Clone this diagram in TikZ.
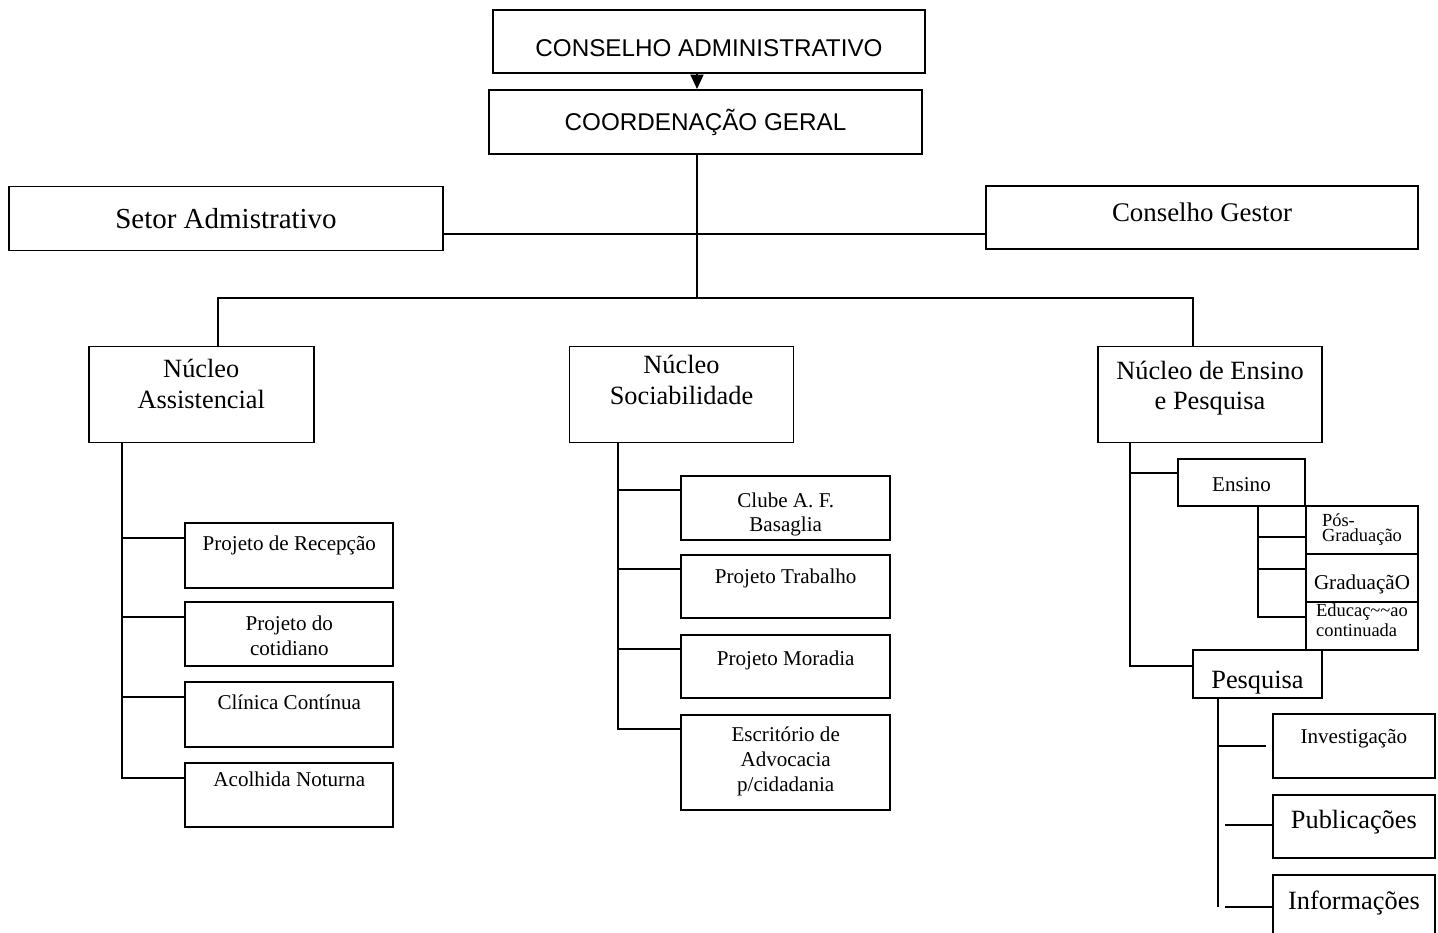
\documentclass[tikz,border=0pt]{standalone}
\usepackage{fontspec}
\setmainfont{Liberation Serif}
\newfontfamily\arialfont{Liberation Sans}
\usetikzlibrary{arrows.meta}

\tikzset{
  box/.style n args={3}{draw, line width=1.1pt, inner xsep=1pt, inner ysep=0pt,
    minimum width=#1*0.02cm, minimum height=#2*0.02cm,
    text height=#3*0.02cm, text depth=(#2-#3)*0.02cm},
  line/.style={line width=1.1pt},
  fsans/.style={font=\arialfont\fontsize{13.8}{16}\selectfont},
  fbig/.style={font=\fontsize{15}{18}\selectfont, align=center},
  fmid/.style={font=\fontsize{12}{13.8}\selectfont, align=center},
  fsmall/.style={font=\fontsize{10.5}{8.9}\selectfont, align=left},
}

\begin{document}
\begin{tikzpicture}[x=0.02cm, y=-0.02cm]
\useasboundingbox (0,0) rectangle (1438,933);

\node[box={432}{63}{46}, fsans] (conad) at (709,41.5) {CONSELHO ADMINISTRATIVO};
\node[box={433}{64}{40}, fsans] (coord) at (705.5,122) {COORDENAÇÃO GERAL};
\node[box={434}{64}{41.5}, font=\fontsize{16.5}{19}\selectfont] (setor) at (226,218.5) {Setor Admistrativo};
\node[box={432}{63}{35}, font=\fontsize{15.3}{18}\selectfont] (gestor) at (1202,217.5) {Conselho Gestor};

\node[box={224.5}{96}{62.3}, fbig] (nassist) at (201.3,394.5) {Núcleo\\Assistencial};
\node[box={224}{96}{58.3}, fbig] (nsocial) at (681.5,394.5) {Núcleo\\Sociabilidade};
\node[box={223.4}{96}{63.3}, fbig, font=\fontsize{15}{17}\selectfont] (nensino) at (1210,394.5) {Núcleo de Ensino\\e Pesquisa};

\node[box={208}{64.4}{27.4}, fmid] (recep) at (289.3,555.5) {Projeto de Recepção};
\node[box={208}{63.7}{52.7}, fmid] (cotid) at (289.3,634.2) {Projeto do\\cotidiano};
\node[box={208}{64.4}{26.7}, fmid] (clinica) at (289.3,714.5) {Clínica Contínua};
\node[box={208}{64}{23.3}, fmid] (acolhida) at (289.3,794.7) {Acolhida Noturna};

\node[box={208.7}{64.3}{56}, fmid] (clube) at (785.7,507.9) {Clube A. F.\\Basaglia};
\node[box={208.7}{63.3}{28.3}, fmid] (trabalho) at (785.7,586.7) {Projeto Trabalho};
\node[box={208.7}{63.3}{30}, fmid] (moradia) at (785.7,666.7) {Projeto Moradia};
\node[box={208.7}{95}{76.7}, fmid, font=\fontsize{12}{14.2}\selectfont] (escrit) at (785.7,762.5) {Escritório de\\Advocacia\\p/cidadania};

\node[box={127.6}{46.7}{32.7}, fmid] (ensino) at (1241.5,482.4) {Ensino};
\node[box={112}{48}{35.7}, fsmall] (posgrad) at (1362,530) {Pós-\\Graduação};
\node[box={112}{48.3}{35}, fmid] (grad) at (1362,578.2) {GraduaçãO};
\node[box={112}{47.7}{34.4}, fsmall, font=\fontsize{10.5}{11.3}\selectfont] (educ) at (1362,626.2) {Educaç\textasciitilde\textasciitilde ao\\continuada};
\node[box={128.4}{48}{38.3}, fbig] (pesq) at (1257.5,674) {Pesquisa};

\node[box={162.3}{64.3}{29.3}, fmid] (invest) at (1353.9,746.2) {Investigação};
\node[box={162.3}{63.3}{33.3}, fbig] (public) at (1353.9,826.7) {Publicações};
\node[box={162.3}{64}{34}, fbig] (inform) at (1353.9,907) {Informações};

\coordinate (split) at (697,298);
\coordinate (mid) at (697,234);
\coordinate (xa) at (218,298);
\coordinate (xb) at (1193.3,298);
\coordinate (ca) at (121.7,0);
\coordinate (cs) at (617.7,0);
\coordinate (ce) at (1130,0);
\coordinate (cg) at (1258.3,0);
\coordinate (cp) at (1218.3,0);
\coordinate (cq) at (1225,0);

\draw[line, -{Triangle[width=0.26cm,length=0.29cm]}] (conad.south -| split) -- (coord.north -| split);
\draw[line] (coord.south -| split) -- (split);
\draw[line] (setor.east |- mid) -- (gestor.west |- mid);
\draw[line] (nassist.north -| xa) -- (xa) -- (xb) -- (nensino.north -| xb);

\draw[line] (nassist.south -| ca) |- ([yshift=-0.32cm]acolhida.north west);
\foreach \n in {recep,cotid,clinica}
  \draw[line] ([yshift=-0.32cm]\n.north west) coordinate (t) -- (t -| ca);

\draw[line] (nsocial.south -| cs) |- ([yshift=-0.3cm]escrit.north west);
\foreach \n in {clube,trabalho,moradia}
  \draw[line] ([yshift=-0.3cm]\n.north west) coordinate (t) -- (t -| cs);

\draw[line] (nensino.south -| ce) |- ([yshift=-0.33cm]pesq.north west);
\draw[line] ([yshift=-0.3cm]ensino.north west) coordinate (t) -- (t -| ce);

\draw[line] (ensino.south -| cg) |- ([yshift=-0.32cm]educ.north west);
\draw[line] ([yshift=-0.64cm]posgrad.north west) coordinate (t) -- (t -| cg);
\draw[line] ([yshift=-0.32cm]grad.north west) coordinate (t) -- (t -| cg);

\coordinate (tv) at ([yshift=-0.65cm]invest.north west);
\coordinate (tp) at ([yshift=-0.62cm]public.north west);
\coordinate (ti) at ([yshift=-0.66cm]inform.north west);
\draw[line] (pesq.south -| cp) -- (ti -| cp);
\draw[line, shorten >=0.11cm] (tv -| cp) -- (tv);
\draw[line] (tp -| cq) -- (tp);
\draw[line] (ti -| cq) -- (ti);
\end{tikzpicture}
\end{document}
